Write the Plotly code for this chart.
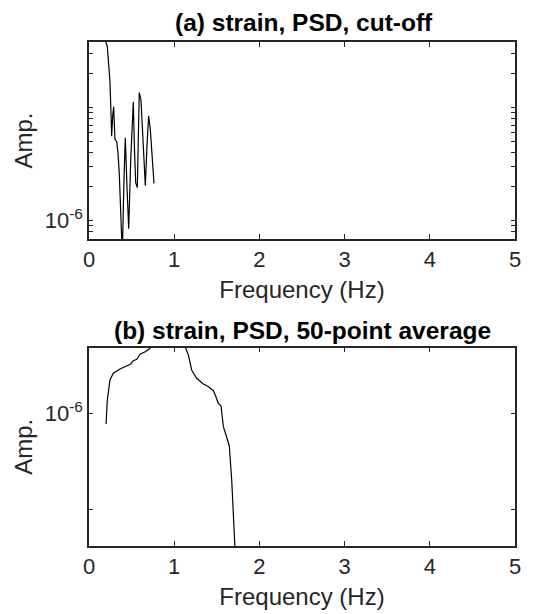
import plotly.graph_objects as go

# ---- data ----
freq_a = [0.17, 0.196, 0.215, 0.23, 0.246, 0.258, 0.266, 0.278, 0.29, 0.298, 0.305,
          0.325, 0.34, 0.355, 0.372, 0.391, 0.41, 0.426, 0.446, 0.466, 0.49, 0.51,
          0.52, 0.535, 0.548, 0.567, 0.58, 0.59, 0.61, 0.635, 0.661, 0.68, 0.70,
          0.72, 0.74, 0.763]
amp_a = [7e-5, 3.84e-5, 3.47e-5, 2.5e-5, 1.70e-5, 9e-6, 5.6e-6, 8.5e-6, 1.02e-5, 7e-6, 5.25e-6,
         5.0e-6, 4.0e-6, 2.64e-6, 1.4e-6, 5.0e-7, 2.2e-6, 5.43e-6, 2.0e-6, 8.5e-7, 3.5e-6, 9.0e-6,
         1.13e-5, 4.0e-6, 2.17e-6, 1.96e-6, 6.5e-6, 1.36e-5, 1.17e-5, 4.5e-6, 2.04e-6, 4.5e-6, 8.45e-6,
         6.35e-6, 3.6e-6, 2.14e-6]

freq_b = [0.20, 0.215, 0.246, 0.285, 0.364, 0.44, 0.49, 0.52, 0.56, 0.60, 0.66, 0.716,
          0.76, 0.85, 0.95, 1.05, 1.12, 1.166, 1.205, 1.264, 1.342, 1.40, 1.459, 1.49,
          1.518, 1.55, 1.577, 1.608, 1.647, 1.675, 1.70, 1.72]
amp_b = [7.8e-7, 1.39e-6, 2.24e-6, 2.63e-6, 2.91e-6, 3.13e-6, 3.28e-6, 3.55e-6, 3.67e-6, 4.14e-6,
         4.40e-6, 4.78e-6, 5.3e-6, 5.8e-6, 6.0e-6, 5.8e-6, 5.2e-6, 4.07e-6, 2.84e-6, 2.33e-6,
         2.03e-6, 1.91e-6, 1.73e-6, 1.50e-6, 1.28e-6, 1.20e-6, 7.33e-7, 6.01e-7, 4.62e-7, 2.05e-7,
         8.5e-8, 3e-8]

x_ticks = [0, 1, 2, 3, 4, 5]
y_major = [1e-6]
y_major_text = ["10<sup>-6</sup>"]
ya_minor = [8e-7, 9e-7, 2e-6, 3e-6, 4e-6, 5e-6, 6e-6, 7e-6, 8e-6, 9e-6, 1e-5, 2e-5, 3e-5]
yb_minor = [1e-7]

titles = ["(a) strain, PSD, cut-off", "(b) strain, PSD, 50-point average"]
xlabel = "Frequency (Hz)"
ylabel = "Amp."

FONT = "Arial, Liberation Sans, sans-serif"
AX = "#262626"

fig = go.Figure()
fig.add_trace(go.Scatter(x=freq_a, y=amp_a, mode="lines", line=dict(color="black", width=1.2),
                         xaxis="x", yaxis="y", showlegend=False))
fig.add_trace(go.Scatter(x=freq_b, y=amp_b, mode="lines", line=dict(color="black", width=1.2),
                         xaxis="x2", yaxis="y2", showlegend=False))

common_x = dict(range=[0, 5], tickvals=x_ticks, ticktext=[str(v) for v in x_ticks],
                ticks="inside", ticklen=5, tickwidth=1, tickcolor=AX,
                showline=True, linecolor=AX, linewidth=1.5, mirror="ticks",
                showgrid=False, zeroline=False,
                tickfont=dict(family=FONT, size=22, color=AX),
                title=dict(text=xlabel, font=dict(family=FONT, size=24, color=AX), standoff=10))
common_y = dict(type="log", ticks="inside", ticklen=4, tickwidth=1, tickcolor=AX,
                showline=True, linecolor=AX, linewidth=1.5, mirror="ticks",
                showgrid=False, zeroline=False,
                tickvals=y_major, ticktext=y_major_text,
                tickfont=dict(family=FONT, size=22, color=AX),
                title=dict(text=ylabel, font=dict(family=FONT, size=24, color=AX), standoff=5))

fig.update_layout(
    width=533, height=614,
    margin=dict(l=89, r=18, t=42, b=68, autoexpand=False),
    plot_bgcolor="white", paper_bgcolor="white",
    xaxis=dict(common_x, domain=[0, 1], anchor="y"),
    yaxis=dict(common_y, domain=[0.6091, 1], anchor="x", range=[-6.162, -4.419],
               minor=dict(tickmode="array", tickvals=ya_minor, ticks="inside", ticklen=4,
                          tickwidth=1, tickcolor=AX, showgrid=False)),
    xaxis2=dict(common_x, domain=[0, 1], anchor="y2"),
    yaxis2=dict(common_y, domain=[0, 0.3935], anchor="x2", range=[-7.374, -5.315],
                minor=dict(tickmode="array", tickvals=yb_minor, ticks="inside", ticklen=4,
                           tickwidth=1, tickcolor=AX, showgrid=False)),
)

ann = []
ann.append(dict(text="<b>" + titles[0] + "</b>", x=304, y=614 - 23, size=24.5))
ann.append(dict(text="<b>" + titles[1] + "</b>", x=302, y=614 - 330, size=24.5))

for a in ann:
    fig.add_annotation(
        text=a["text"], xref="paper", yref="paper",
        x=(a["x"] - 89) / (533 - 89 - 18), y=(a["y"] - 68) / (614 - 42 - 68),
        xanchor="center", yanchor="middle", showarrow=False,
        font=dict(family=FONT, size=a["size"], color="black"),
    )

fig.write_html("out.html")
